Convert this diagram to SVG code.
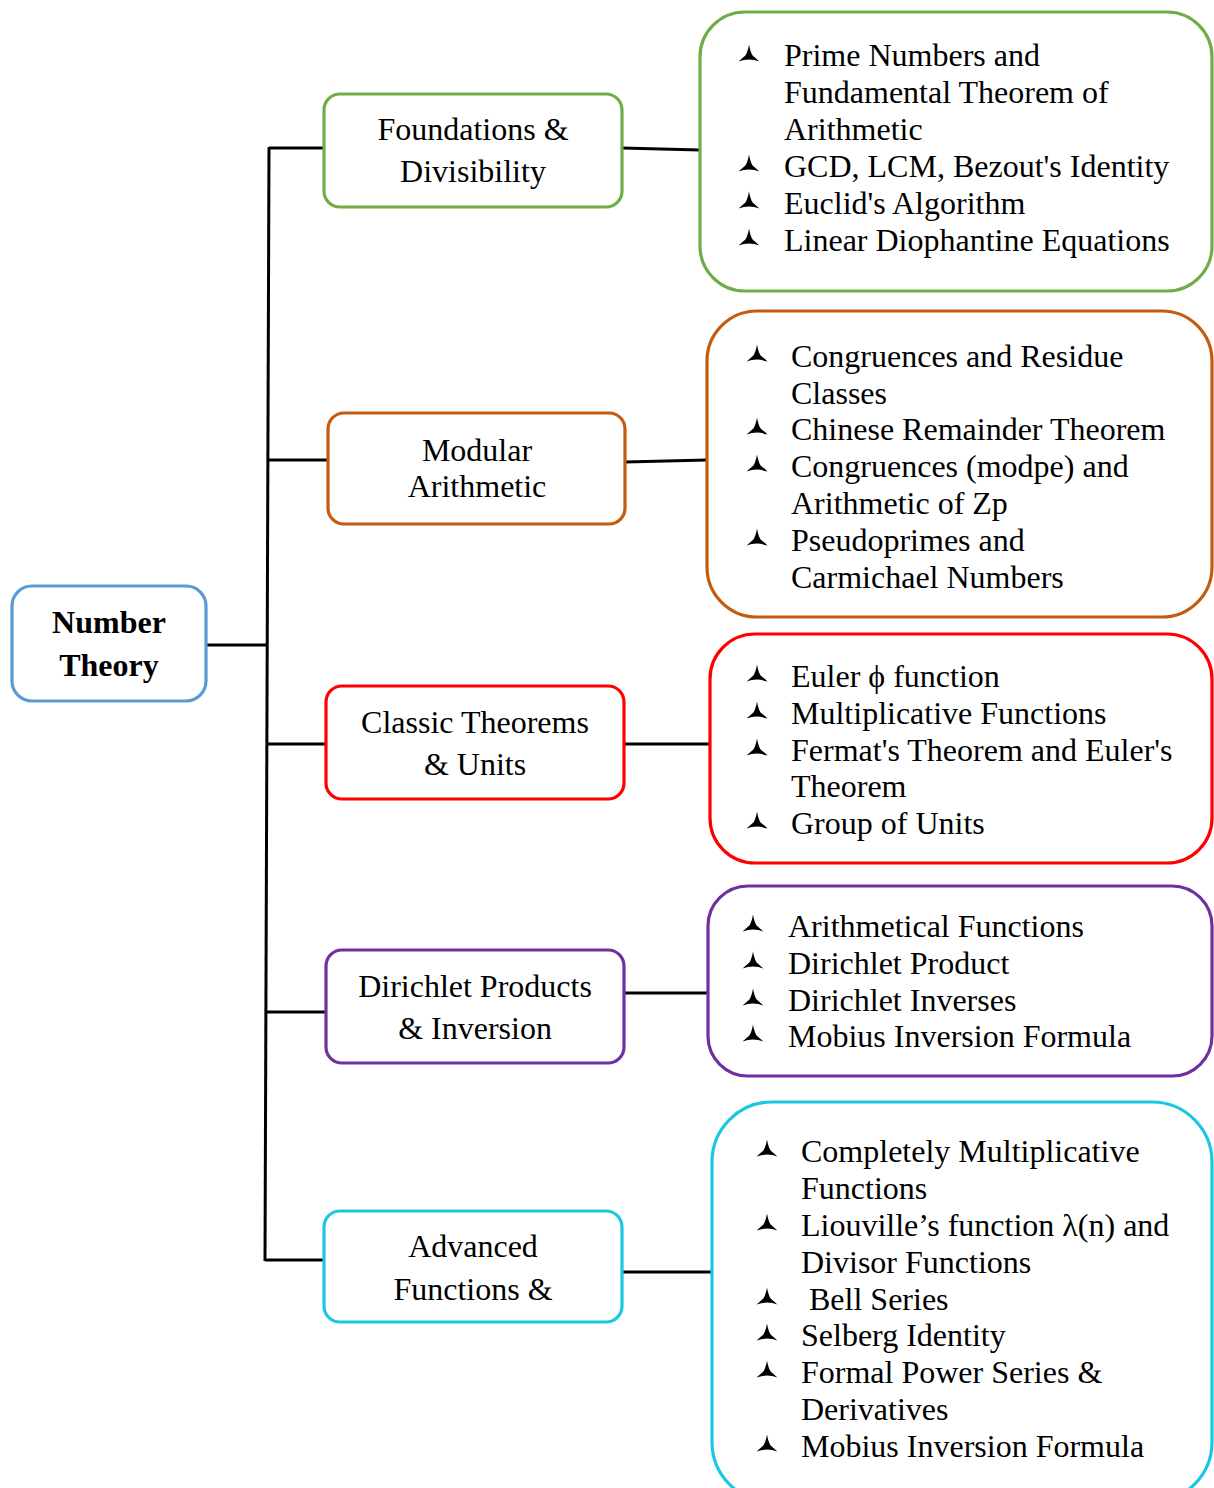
<svg xmlns="http://www.w3.org/2000/svg" xmlns:xlink="http://www.w3.org/1999/xlink" width="1214" height="1488" viewBox="0 0 1214 1488">
<defs>
<style>
.box{fill:#fff;stroke-width:3.2}
.t{font-family:"Liberation Serif","Times New Roman",serif;font-size:32px;fill:#000}
.c{text-anchor:middle}
.b{font-weight:bold}
.ln{stroke:#000;stroke-width:3;fill:none}
.green{stroke:#70AD47}
.orange{stroke:#C55A11}
.red{stroke:#FF0000}
.purple{stroke:#7030A0}
.cyan{stroke:#1CC7E2}
.blue{stroke:#5B9BD5}
</style>
<path id="bul" d="M0,-11.5 C1,-6 2,-3 3.6,-0.6 C6,1.5 8,3 10.5,5.5 C7,4.6 3.5,3.6 0,3.6 C-3.5,3.6 -7,4.6 -10.5,5.5 C-8,3 -6,1.5 -3.6,-0.6 C-2,-3 -1,-6 0,-11.5 Z" fill="#000"/>
</defs>
<rect width="1214" height="1488" fill="#fff"/>
<g id="connectors">
<path class="ln" d="M269,147 L265,1261"/>
<path class="ln" d="M206,645 L268,645"/>
<path class="ln" d="M269,148 L325,148"/>
<path class="ln" d="M268,460 L328,460"/>
<path class="ln" d="M267,744 L326,744"/>
<path class="ln" d="M265,1012 L325,1012"/>
<path class="ln" d="M265,1260 L323,1260"/>
<path class="ln" d="M622,148 L700,150"/>
<path class="ln" d="M625,462 L707,460"/>
<path class="ln" d="M624,744 L711,744"/>
<path class="ln" d="M624,993 L709,993"/>
<path class="ln" d="M622,1272 L712,1272"/>
</g>
<g id="root">
<rect class="box blue" x="12" y="586" width="194" height="115" rx="20"/>
<text class="t c b" x="109" y="633">Number</text>
<text class="t c b" x="109" y="676">Theory</text>
</g>
<g id="n1">
<rect class="box green" x="324" y="94" width="298" height="113" rx="16"/>
<text class="t c" x="473" y="140">Foundations &amp;</text>
<text class="t c" x="473" y="182">Divisibility</text>
</g>
<g id="n2">
<rect class="box orange" x="328" y="413" width="297" height="111" rx="16"/>
<text class="t c" x="477" y="461">Modular</text>
<text class="t c" x="477" y="497">Arithmetic</text>
</g>
<g id="n3">
<rect class="box red" x="326" y="686" width="298" height="113" rx="16"/>
<text class="t c" x="475" y="733">Classic Theorems</text>
<text class="t c" x="475" y="775">&amp; Units</text>
</g>
<g id="n4">
<rect class="box purple" x="326" y="950" width="298" height="113" rx="16"/>
<text class="t c" x="475" y="997">Dirichlet Products</text>
<text class="t c" x="475" y="1039">&amp; Inversion</text>
</g>
<g id="n5">
<rect class="box cyan" x="324" y="1211" width="298" height="111" rx="16"/>
<text class="t c" x="473" y="1257">Advanced</text>
<text class="t c" x="473" y="1300">Functions &amp;</text>
</g>
<g id="d1">
<rect class="box green" x="700" y="12" width="512" height="279" rx="45"/>
<use xlink:href="#bul" x="749" y="56"/>
<use xlink:href="#bul" x="749" y="166"/>
<use xlink:href="#bul" x="749" y="203"/>
<use xlink:href="#bul" x="749" y="240"/>
<text class="t" x="784" y="66">Prime Numbers and</text>
<text class="t" x="784" y="103">Fundamental Theorem of</text>
<text class="t" x="784" y="140">Arithmetic</text>
<text class="t" x="784" y="177">GCD, LCM, Bezout's Identity</text>
<text class="t" x="784" y="214">Euclid's Algorithm</text>
<text class="t" x="784" y="251">Linear Diophantine Equations</text>
</g>
<g id="d2">
<rect class="box orange" x="707" y="311" width="505" height="306" rx="50"/>
<use xlink:href="#bul" x="757" y="356"/>
<use xlink:href="#bul" x="757" y="429"/>
<use xlink:href="#bul" x="757" y="466"/>
<use xlink:href="#bul" x="757" y="540"/>
<text class="t" x="791" y="367">Congruences and Residue</text>
<text class="t" x="791" y="404">Classes</text>
<text class="t" x="791" y="440">Chinese Remainder Theorem</text>
<text class="t" x="791" y="477">Congruences (modpe) and</text>
<text class="t" x="791" y="514">Arithmetic of Zp</text>
<text class="t" x="791" y="551">Pseudoprimes and</text>
<text class="t" x="791" y="588">Carmichael Numbers</text>
</g>
<g id="d3">
<rect class="box red" x="710" y="634" width="502" height="229" rx="45"/>
<use xlink:href="#bul" x="757" y="676"/>
<use xlink:href="#bul" x="757" y="713"/>
<use xlink:href="#bul" x="757" y="750"/>
<use xlink:href="#bul" x="757" y="823"/>
<text class="t" x="791" y="687">Euler ϕ function</text>
<text class="t" x="791" y="724">Multiplicative Functions</text>
<text class="t" x="791" y="761">Fermat's Theorem and Euler's</text>
<text class="t" x="791" y="797">Theorem</text>
<text class="t" x="791" y="834">Group of Units</text>
</g>
<g id="d4">
<rect class="box purple" x="708" y="886" width="504" height="190" rx="40"/>
<use xlink:href="#bul" x="753" y="926"/>
<use xlink:href="#bul" x="753" y="963"/>
<use xlink:href="#bul" x="753" y="1000"/>
<use xlink:href="#bul" x="753" y="1036"/>
<text class="t" x="788" y="937">Arithmetical Functions</text>
<text class="t" x="788" y="974">Dirichlet Product</text>
<text class="t" x="788" y="1011">Dirichlet Inverses</text>
<text class="t" x="788" y="1047">Mobius Inversion Formula</text>
</g>
<g id="d5">
<rect class="box cyan" x="712" y="1102" width="500" height="400" rx="60"/>
<use xlink:href="#bul" x="767" y="1151"/>
<use xlink:href="#bul" x="767" y="1225"/>
<use xlink:href="#bul" x="767" y="1299"/>
<use xlink:href="#bul" x="767" y="1335"/>
<use xlink:href="#bul" x="767" y="1372"/>
<use xlink:href="#bul" x="767" y="1446"/>
<text class="t" x="801" y="1162">Completely Multiplicative</text>
<text class="t" x="801" y="1199">Functions</text>
<text class="t" x="801" y="1236">Liouville’s function λ(n) and</text>
<text class="t" x="801" y="1273">Divisor Functions</text>
<text class="t" x="809" y="1310">Bell Series</text>
<text class="t" x="801" y="1346">Selberg Identity</text>
<text class="t" x="801" y="1383">Formal Power Series &amp;</text>
<text class="t" x="801" y="1420">Derivatives</text>
<text class="t" x="801" y="1457">Mobius Inversion Formula</text>
</g>
</svg>
